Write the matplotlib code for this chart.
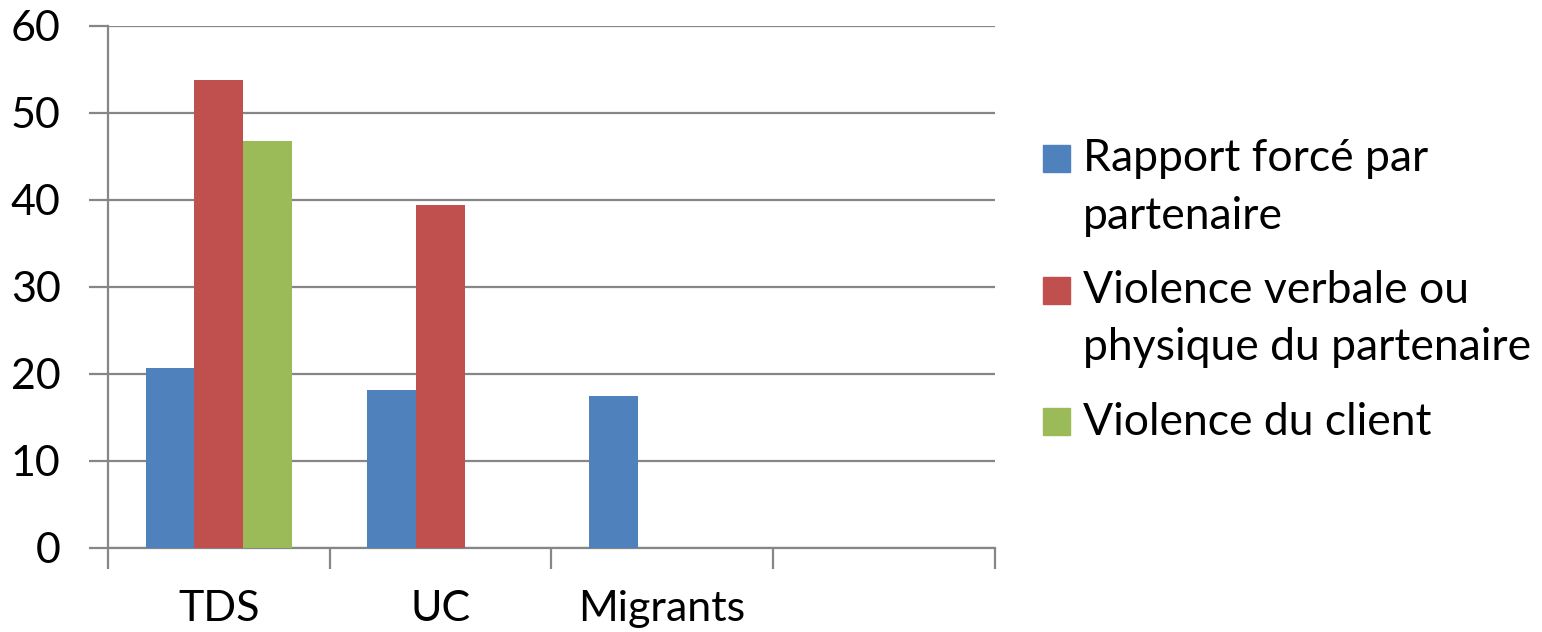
import numpy as np
import matplotlib.pyplot as plt
from matplotlib.patches import Rectangle

plt.rcParams['font.family'] = ['Lato', 'DejaVu Sans']

#DATA ----------------
categories = ['TDS', 'UC', 'Migrants', '']
series_names = ['Rapport forcé par\npartenaire',
                'Violence verbale ou\nphysique du partenaire',
                'Violence du client']
rapport_force = [20.7, 18.2, 17.5, np.nan]
violence_partenaire = [53.8, 39.4, np.nan, np.nan]
violence_client = [46.8, np.nan, np.nan, np.nan]
y_ticks = [0, 10, 20, 30, 40, 50, 60]

#STYLE ----------------
COLORS = ['#4f81bd', '#c0504d', '#9bbb59']
GRID = '#868686'
BAR_W = 0.22
FS = 31

W, H = 1542, 632
fig = plt.figure(figsize=(W / 100, H / 100), dpi=100)
ax = fig.add_axes([0.070, 0.133, 0.575, 0.826])

x = np.arange(len(categories))
all_series = [rapport_force, violence_partenaire, violence_client]
for i, (vals, col) in enumerate(zip(all_series, COLORS)):
    ax.bar(x + (i - 1) * BAR_W, vals, BAR_W, color=col, zorder=3)

ax.set_xlim(-0.5, len(categories) - 0.5)
ax.set_ylim(0, 60)
ax.set_yticks(y_ticks)
ax.yaxis.grid(True, color=GRID, linewidth=1.6, zorder=0)

# category labels centred, tick marks on the boundaries
ax.set_xticks(x)
ax.set_xticklabels(categories, fontsize=FS)
ax.tick_params(axis='x', length=0, pad=30)
ax.set_xticks(np.arange(len(categories) + 1) - 0.5, minor=True)
ax.tick_params(axis='x', which='minor', length=15, width=1.6, color=GRID)
ax.tick_params(axis='y', length=14, width=1.6, color=GRID, labelsize=FS, pad=20)

for side in ['top', 'right']:
    ax.spines[side].set_visible(False)
for side in ['left', 'bottom']:
    ax.spines[side].set_color(GRID)
    ax.spines[side].set_linewidth(1.6)

# legend: square next to the first line of each (wrapped) label
box = 27
line_h = 57
for i, (name, col) in enumerate(zip(series_names, COLORS)):
    base = 172 + i * 131.5
    last = base + line_h * name.count('\n')
    fig.add_artist(Rectangle((1043 / W, 1 - base / H), box / W, box / H,
                             transform=fig.transFigure, color=col))
    fig.text(1083 / W, 1 - last / H, name, fontsize=32, va='baseline',
             ha='left', linespacing=1.5)

fig.savefig('out.png', dpi=100)
